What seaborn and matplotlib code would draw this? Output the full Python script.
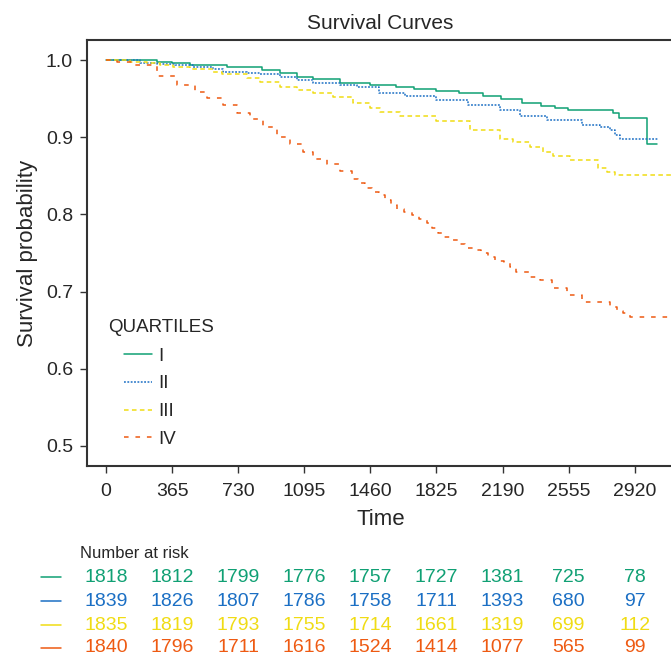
import numpy as np
import pandas as pd
import matplotlib
matplotlib.use('Agg')
import matplotlib.pyplot as plt
import matplotlib.transforms as mtransforms
from matplotlib.lines import Line2D
import seaborn as sns

# curve knots (time in days, survival probability)
time_q1 = [0, 280, 365, 465, 670, 860, 960, 1055, 1145, 1290, 1460, 1600, 1700, 1825,
           1950, 2080, 2180, 2300, 2400, 2480, 2550, 2800, 2835, 2987, 3045]
surv_q1 = [1.0, 0.998, 0.996, 0.993, 0.991, 0.987, 0.983, 0.978, 0.975, 0.970, 0.968,
           0.965, 0.963, 0.960, 0.957, 0.954, 0.950, 0.945, 0.941, 0.938, 0.935, 0.932,
           0.925, 0.891, 0.891]

time_q2 = [0, 190, 280, 380, 480, 590, 645, 780, 850, 960, 1055, 1145, 1290, 1385, 1510,
           1650, 1820, 2000, 2176, 2286, 2435, 2628, 2728, 2783, 2811, 2838, 3048]
surv_q2 = [1.0, 0.996, 0.995, 0.9935, 0.991, 0.988, 0.984, 0.983, 0.982, 0.978, 0.974,
           0.970, 0.968, 0.965, 0.957, 0.953, 0.948, 0.942, 0.935, 0.927, 0.922, 0.916,
           0.913, 0.909, 0.903, 0.898, 0.898]

time_q3 = [0, 133, 226, 298, 370, 464, 591, 641, 779, 850, 961, 1055, 1143, 1254, 1364,
           1458, 1513, 1623, 1822, 2010, 2176, 2247, 2341, 2413, 2468, 2562, 2717, 2767,
           2811, 3140]
surv_q3 = [1.0, 0.9975, 0.996, 0.9935, 0.991, 0.988, 0.984, 0.982, 0.977, 0.972, 0.965,
           0.961, 0.957, 0.952, 0.944, 0.938, 0.933, 0.927, 0.921, 0.909, 0.898, 0.894,
           0.887, 0.881, 0.876, 0.870, 0.860, 0.855, 0.851, 0.851]

time_q4 = [0, 60, 149, 282, 392, 491, 558, 646, 723, 795, 867, 944, 1016, 1088, 1143,
           1220, 1292, 1358, 1392, 1430, 1469, 1508, 1541, 1574, 1607, 1646, 1690, 1728,
           1773, 1800, 1833, 1866, 1911, 1944, 1982, 2032, 2071, 2109, 2148, 2198, 2231,
           2264, 2341, 2396, 2463, 2546, 2628, 2783, 2822, 2855, 2894, 3140]
surv_q4 = [1.0, 0.998, 0.9935, 0.980, 0.968, 0.959, 0.951, 0.942, 0.932, 0.923, 0.913,
           0.900, 0.891, 0.881, 0.872, 0.865, 0.856, 0.846, 0.841, 0.834, 0.829, 0.825,
           0.819, 0.812, 0.807, 0.803, 0.799, 0.794, 0.789, 0.782, 0.776, 0.771, 0.767,
           0.762, 0.756, 0.754, 0.750, 0.745, 0.740, 0.738, 0.732, 0.725, 0.719, 0.715,
           0.705, 0.696, 0.687, 0.680, 0.675, 0.672, 0.667, 0.667]

groups = ['I', 'II', 'III', 'IV']
colors = ['#10a074', '#1b6fc4', '#f0dc14', '#ee5a12']
styles = ['-', (0, (1.2, 1.0)), (0, (3.0, 2.2)), (0, (3.0, 4.5))]

risk_times = [0, 365, 730, 1095, 1460, 1825, 2190, 2555, 2920]
risk_q1 = [1818, 1812, 1799, 1776, 1757, 1727, 1381, 725, 78]
risk_q2 = [1839, 1826, 1807, 1786, 1758, 1711, 1393, 680, 97]
risk_q3 = [1835, 1819, 1793, 1755, 1714, 1661, 1319, 699, 112]
risk_q4 = [1840, 1796, 1711, 1616, 1524, 1414, 1077, 565, 99]

curves = [(time_q1, surv_q1), (time_q2, surv_q2), (time_q3, surv_q3), (time_q4, surv_q4)]
risks = [risk_q1, risk_q2, risk_q3, risk_q4]

sns.set_style("ticks")
plt.rcParams['font.family'] = ['Liberation Sans', 'DejaVu Sans']
plt.rcParams['font.size'] = 14

fig = plt.figure(figsize=(6.71, 6.57), dpi=100)
ax = fig.add_axes([87 / 671, 191 / 657, 587 / 671, 426 / 657])

for g, (t, s), c, ls in zip(groups, curves, colors, styles):
    d = pd.DataFrame({'time': t, 'surv': s})
    sns.lineplot(data=d, x='time', y='surv', ax=ax, estimator=None, sort=False,
                 drawstyle='steps-post', color=c, linestyle=ls, linewidth=1.1, label=g)

ax.set_xlim(-105, 3137)
ax.set_ylim(0.474, 1.026)
ax.set_xticks(risk_times)
ax.set_yticks([0.5, 0.6, 0.7, 0.8, 0.9, 1.0])
ax.set_yticklabels(['0.5', '0.6', '0.7', '0.8', '0.9', '1.0'])
ax.tick_params(axis='both', length=5, width=1.0, color='#333333', labelsize=14)
ax.tick_params(axis='x', pad=7.5)
ax.tick_params(axis='y', pad=5)
for sp in ax.spines.values():
    sp.set_color('#333333')
    sp.set_linewidth(1.5)

ax.set_title("Survival Curves", fontsize=15, pad=8)
ax.set_xlabel("Time", fontsize=16, labelpad=6)
ax.set_ylabel("Survival probability", fontsize=16, labelpad=6)

# legend: title drawn on its own so the entries sit indented under it
ax.text((108 - 87) / 587, (466 - 328) / 426, "QUARTILES",
        transform=ax.transAxes, fontsize=13.5, ha='left', va='center')
leg = ax.legend(loc='upper left', bbox_to_anchor=((120 - 87) / 587, (466 - 344) / 426),
                frameon=False, fontsize=13.5, handlelength=1.5, handletextpad=0.35,
                labelspacing=0.56, borderpad=0.2, borderaxespad=0)
for h in leg.legend_handles:
    h.set_linewidth(1.1)

# number at risk table
trans = mtransforms.blended_transform_factory(ax.transData, fig.transFigure)
fig.text(80 / 671, 1 - 553 / 657, "Number at risk", fontsize=12, ha='left', va='center')
row_y = [577, 601, 625, 648]
for r, c, py in zip(risks, colors, row_y):
    yf = 1 - py / 657
    fig.add_artist(Line2D([41 / 671, 61 / 671], [yf, yf], color=c, linewidth=1.1,
                          transform=fig.transFigure))
    for t, n in zip(risk_times, r):
        ax.text(t, yf, str(n), transform=trans, color=c, fontsize=14,
                ha='center', va='center', clip_on=False)

plt.savefig("out.png", dpi=100)
plt.close()
